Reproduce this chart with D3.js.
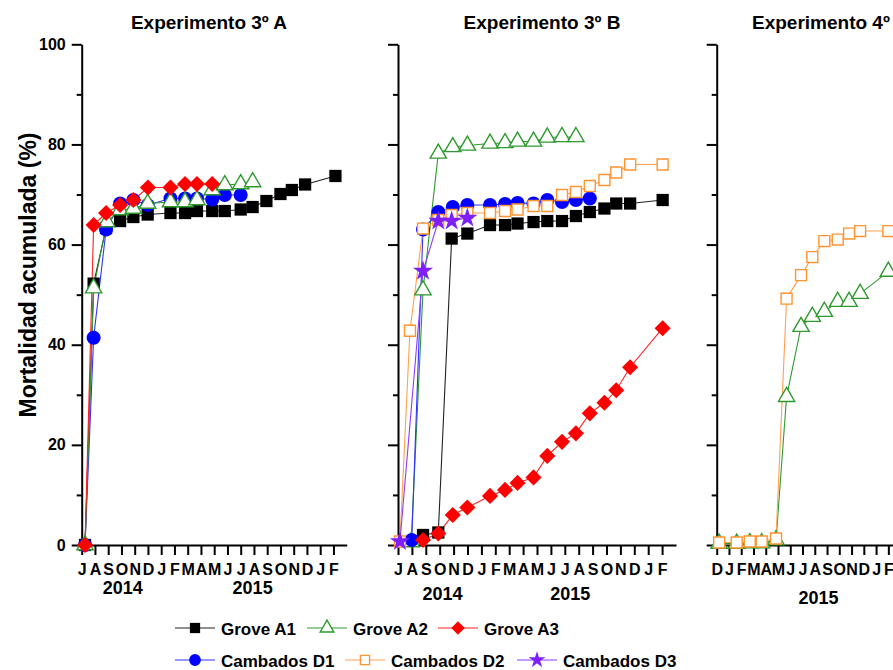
<!DOCTYPE html>
<html>
<head>
<meta charset="utf-8">
<style>
body { margin: 0; background: #fff; }
svg { display: block; font-family: "Liberation Sans", Arial, sans-serif; font-weight: bold; }
</style>
</head>
<body>
<svg width="893" height="670"></svg>
<script src="https://cdn.jsdelivr.net/npm/d3@7"></script>
<script>

// x values are months counted from Jan 2014 (0 = Jan 2014)
var monthLetters = ["J","F","M","A","M","J","J","A","S","O","N","D"];
var yTicks = [0, 20, 40, 60, 80, 100];
var yMinor = [10, 30, 50, 70, 90];

// Experimento 3º A
var aGroveA1 = [[6.25,0],[6.9,52.2],[7.84,63.3],[8.9,64.7],[9.9,65.5],[10.98,66.0],[12.7,66.3],[13.8,66.3],[14.7,66.7],[15.85,66.7],[16.8,66.7],[18.0,67.0],[18.9,67.5],[19.94,68.7],[21.0,70.1],[21.86,70.9],[22.86,72.0],[25.15,73.7]];
var aGroveA2 = [[6.25,0],[6.9,51.3],[7.9,64.5],[8.9,66.9],[9.9,67.2],[10.98,68.2],[12.7,68.5],[13.8,68.5],[14.7,68.9],[15.85,70.9],[16.8,71.9],[18.0,72.1],[18.9,72.5]];
var aGroveA3 = [[6.25,0],[6.9,63.9],[7.84,66.3],[8.9,67.9],[9.9,68.9],[11.0,71.4],[12.7,71.4],[13.8,72.1],[14.7,72.1],[15.85,72.1]];
var aCambD1 = [[6.25,0],[6.9,41.4],[7.84,63.0],[8.9,68.2],[9.9,68.9],[10.98,67.9],[12.7,69.2],[13.8,69.2],[14.7,69.2],[15.85,69.0],[16.8,69.9],[18.0,69.9]];

// Experimento 3º B
var bGroveA1 = [[7.8,2.0],[8.9,2.5],[9.86,61.2],[10.99,62.2],[12.62,63.9],[13.7,63.9],[14.6,64.2],[15.75,64.5],[16.74,64.7],[17.8,64.7],[18.8,65.7],[19.8,66.5],[20.85,67.2],[21.7,68.2],[22.7,68.2],[25.04,68.9]];
var bGroveA2 = [[6.95,0.6],[7.8,50.9],[8.9,78.2],[9.94,79.5],[10.99,79.8],[12.62,80.2],[13.7,80.3],[14.6,80.6],[15.75,80.6],[16.74,81.4],[17.8,81.5],[18.8,81.5]];
var bGroveA3 = [[7.8,1.0],[8.9,2.3],[9.94,6.0],[10.99,7.5],[12.62,9.8],[13.7,11.0],[14.6,12.4],[15.75,13.5],[16.74,17.8],[17.8,20.6],[18.8,22.3],[19.8,26.3],[20.85,28.4],[21.7,30.9],[22.7,35.5],[25.04,43.3]];
var bCambD1 = [[6.99,1.0],[7.8,63.0],[8.9,66.5],[9.94,67.5],[10.99,67.9],[12.62,67.9],[13.7,68.1],[14.6,68.3],[15.75,68.2],[16.74,68.9],[17.8,68.5],[18.8,68.9],[19.8,69.2]];
var bCambD2 = [[6.14,0.7],[6.86,42.8],[7.8,63.2],[8.9,64.9],[9.86,65.9],[10.99,66.3],[12.62,66.3],[13.7,66.7],[14.6,67.0],[15.75,67.7],[16.74,67.7],[17.8,69.9],[18.8,70.5],[19.8,71.7],[20.85,72.9],[21.7,74.4],[22.7,76.0],[25.04,76.0]];
var bCambD3 = [[6.14,0.7],[7.8,54.7],[8.9,64.7],[9.86,64.7],[10.99,65.3]];

// Experimento 4º
var cGroveA2 = [[11.2,0.3],[12.63,0.3],[13.7,0.4],[14.67,0.4],[15.84,1.0],[16.7,29.6],[17.88,43.6],[18.8,45.6],[19.78,46.6],[20.87,48.6],[21.8,48.6],[22.7,50.2],[25.0,54.6]];
var cCambD2 = [[11.2,0.5],[12.63,0.5],[13.7,0.7],[14.67,0.7],[15.84,1.3],[16.7,49.2],[17.88,53.9],[18.8,57.5],[19.78,60.7],[20.87,61.0],[21.8,62.2],[22.7,62.7],[25.0,62.7]];

var svg = d3.select("svg");

var style = {
  A1: { name: "Grove A1", color: "#000", line: "#222", symbol: d3.symbolSquare, size: 150, fill: true, rot: 0 },
  A2: { name: "Grove A2", color: "#2e9a2e", line: "#2e9a2e", symbol: d3.symbolTriangle, size: 115, fill: false, rot: 0 },
  A3: { name: "Grove A3", color: "#ff0000", line: "#ff2020", symbol: d3.symbolSquare, size: 130, fill: true, rot: 45 },
  D1: { name: "Cambados D1", color: "#0000ff", line: "#3030ff", symbol: d3.symbolCircle, size: 155, fill: true, rot: 0 },
  D2: { name: "Cambados D2", color: "#ff9430", line: "#ffa050", symbol: d3.symbolSquare, size: 120, fill: false, rot: 0 },
  D3: { name: "Cambados D3", color: "#7f1fff", line: "#8a3cff", symbol: d3.symbolStar, size: 125, fill: true, rot: 0 }
};

var y = d3.scaleLinear().domain([0, 100]).range([545, 44.3]);

var panels = [
  { title: "Experimento 3º A", titleX: 209, anchor: "middle", domain: [6, 26], range: [81.7, 346.7], yLabels: true,
    years: [[9.1, "2014"], [18.9, "2015"]], yearY: 594,
    series: [["A1", aGroveA1], ["D1", aCambD1], ["A2", aGroveA2], ["A3", aGroveA3]] },
  { title: "Experimento 3º B", titleX: 542, anchor: "middle", domain: [6, 26], range: [398, 676], yLabels: false,
    years: [[9.2, "2014"], [18.4, "2015"]], yearY: 600,
    series: [["A1", bGroveA1], ["A2", bGroveA2], ["D1", bCambD1], ["A3", bGroveA3], ["D2", bCambD2], ["D3", bCambD3]] },
  { title: "Experimento 4º", titleX: 752, anchor: "start", domain: [11, 26], range: [716.7, 900.6], yLabels: false,
    years: [[19.3, "2015"]], yearY: 604,
    series: [["A2", cGroveA2], ["D2", cCambD2]] }
];

function marker(sel, s, k) {
  sel.attr("d", d3.symbol().type(s.symbol).size(s.size * (k || 1)))
    .attr("fill", s.fill ? s.color : "#fff")
    .attr("stroke", s.color)
    .attr("stroke-width", s.fill ? 0 : 1.4);
}

panels.forEach(function(p) {
  var x = d3.scaleLinear().domain(p.domain).range(p.range);
  var g = svg.append("g");

  // y axis
  var ya = g.append("g")
      .attr("transform", "translate(" + p.range[0] + ",0)")
      .call(d3.axisLeft(y).tickValues(yTicks).tickSize(10).tickSizeOuter(0).tickPadding(6)
        .tickFormat(p.yLabels ? d3.format("d") : ""));
  g.append("g")
      .attr("transform", "translate(" + p.range[0] + ",0)")
      .call(d3.axisLeft(y).tickValues(yMinor).tickSize(5).tickFormat(""))
    .select(".domain").remove();

  // x axis
  var xa = g.append("g")
      .attr("transform", "translate(0,545)")
      .call(d3.axisBottom(x).tickValues(d3.range(p.domain[0], 26)).tickSize(10).tickSizeOuter(0).tickPadding(8.5)
        .tickFormat(function(m) { return monthLetters[m % 12]; }));

  g.selectAll(".domain, .tick line").attr("stroke", "#000").attr("stroke-width", 2);
  ya.selectAll("text").attr("font-size", 16).attr("fill", "#000");
  xa.selectAll("text").attr("font-size", 16).attr("fill", "#000");
  ya.attr("font-family", null); xa.attr("font-family", null);

  g.selectAll(".year")
    .data(p.years)
    .enter().append("text")
      .attr("class", "year")
      .attr("x", function(d) { return x(d[0]); })
      .attr("y", p.yearY)
      .attr("text-anchor", "middle")
      .attr("font-size", 18)
      .text(function(d) { return d[1]; });

  g.append("text")
      .attr("x", p.titleX)
      .attr("y", 29)
      .attr("text-anchor", p.anchor)
      .attr("font-size", 19)
      .text(p.title);

  var line = d3.line().x(function(d) { return x(d[0]); }).y(function(d) { return y(d[1]); });

  p.series.forEach(function(sr) {
    var s = style[sr[0]];
    g.append("path")
        .datum(sr[1])
        .attr("fill", "none")
        .attr("stroke", s.line)
        .attr("stroke-width", 1.1)
        .attr("d", line);
  });
  p.series.forEach(function(sr) {
    var s = style[sr[0]];
    g.append("g").selectAll("path")
      .data(sr[1])
      .enter().append("path")
        .attr("transform", function(d) { return "translate(" + x(d[0]) + "," + y(d[1]) + ") rotate(" + s.rot + ")"; })
        .call(marker, s);
  });
});

// y label
svg.append("text")
    .attr("transform", "translate(36,275) rotate(-90)")
    .attr("text-anchor", "middle")
    .attr("font-size", 23)
    .text("Mortalidad acumulada (%)");

// legend
var legendRows = [
  [["A1", 175], ["A2", 307], ["A3", 438]],
  [["D1", 175], ["D2", 345], ["D3", 517]]
];
legendRows.forEach(function(row, i) {
  var ly = 628 + i * 32;
  row.forEach(function(it) {
    var s = style[it[0]];
    var lg = svg.append("g").attr("transform", "translate(" + it[1] + "," + ly + ")");
    lg.append("line").attr("x1", 0).attr("x2", 40).attr("stroke", s.line).attr("stroke-width", 1.2);
    lg.append("path").attr("transform", "translate(20,0) rotate(" + s.rot + ")").call(marker, s, 0.7);
    lg.append("text").attr("x", 46).attr("y", 6.5).attr("font-size", 17).text(s.name);
  });
});

</script>
</body>
</html>
